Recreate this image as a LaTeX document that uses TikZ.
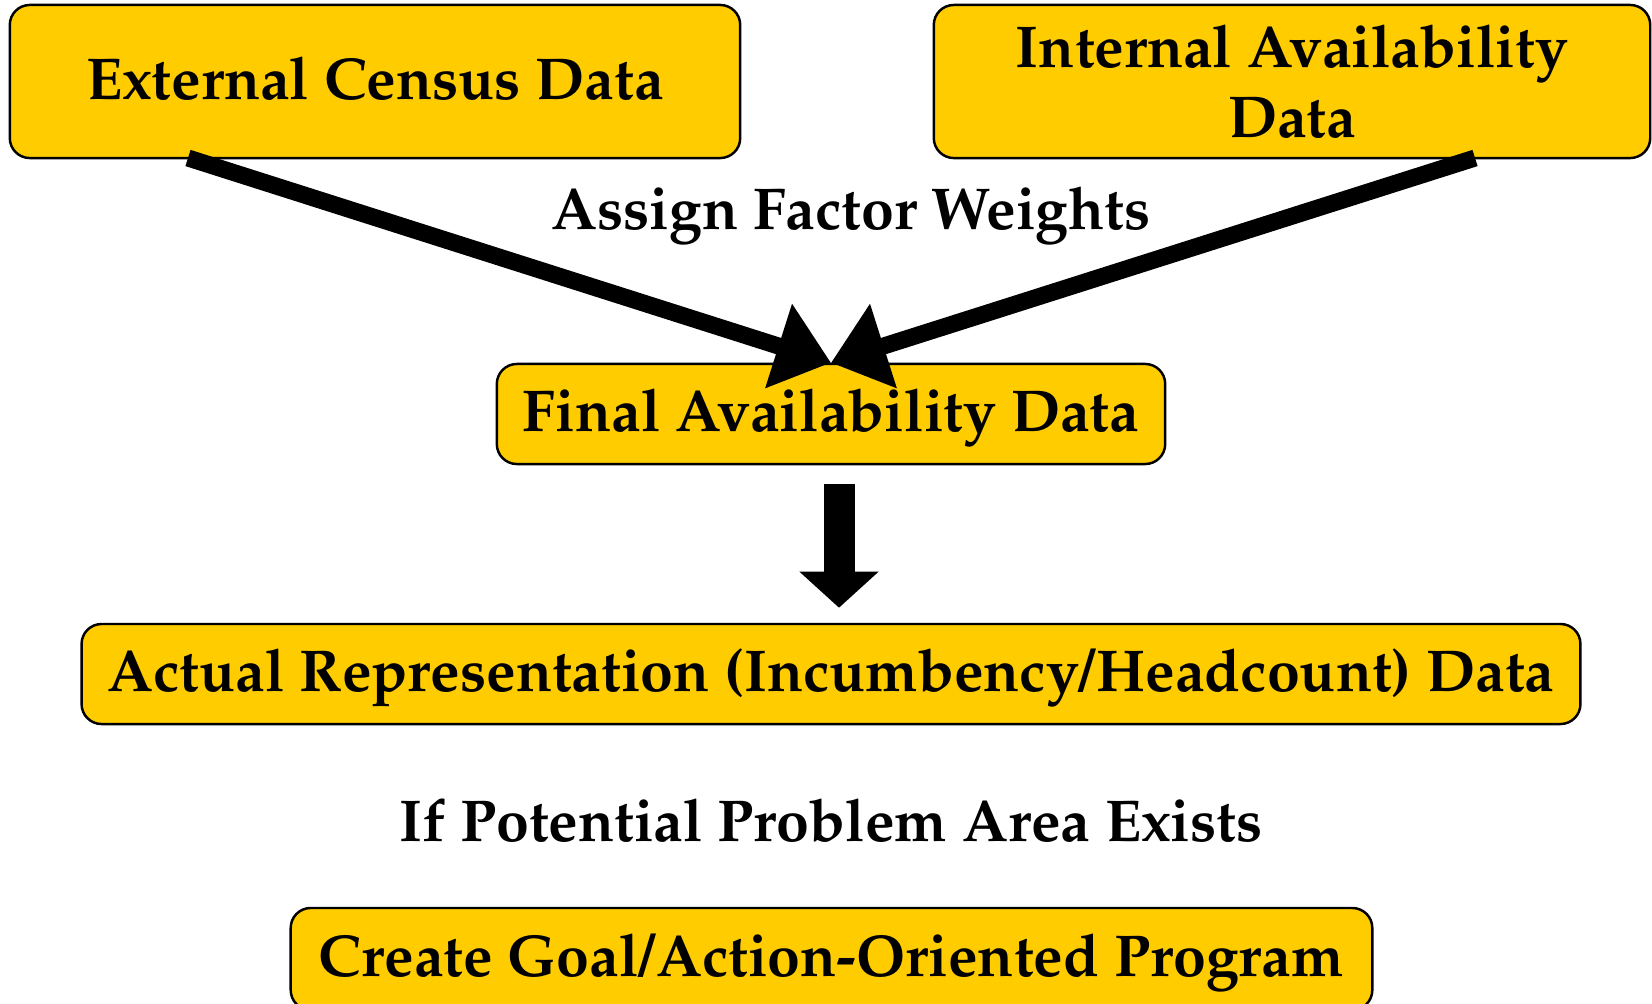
\documentclass[tikz,border=0pt]{standalone}
\usepackage[T1]{fontenc}
\usepackage{mathpazo}
\usepackage{tikz}
\usetikzlibrary{arrows.meta,positioning,calc}
\usepackage{xcolor}
\definecolor{boxyellow}{RGB}{255,204,0}

\begin{document}
\begin{tikzpicture}[x=0.01cm, y=-0.01cm,
    databox/.style={draw=black, line width=0.7pt, fill=boxyellow, rounded corners=0.2cm,
        align=center, inner sep=0pt, font=\fontsize{16.8}{20}\selectfont\bfseries},
    onelinebox/.style={databox, text height=12.7pt, text depth=2.6pt},
    flowlabel/.style={font=\fontsize{16.8}{20}\selectfont\bfseries},
    bigarrow/.style={line width=0.17cm, -{Triangle[length=0.55cm, width=0.85cm]}}]

\useasboundingbox (0,0) rectangle (1652,1003);

% Top row: the two data sources
\node[onelinebox, minimum width=7.3cm, minimum height=1.53cm] (census) at (375, 81.5) {External Census Data};
\node[databox, minimum width=7.16cm, minimum height=1.53cm] (internal) at (1292, 81.5) {Internal Availability\\Data};

% Merged availability
\node[onelinebox, minimum width=6.68cm, minimum height=1cm] (final) at (831, 414) {Final Availability Data};
\node[flowlabel] (weights) at (851, 216) {Assign Factor Weights};

\draw[bigarrow] (188, 158) -- (final.north);
\draw[bigarrow] (1475, 158) -- (final.north);

% Comparison with actual data
\node[onelinebox, minimum width=14.98cm, minimum height=1cm] (actual) at (831, 674) {Actual Representation (Incumbency/Headcount) Data};
\draw[line width=0.31cm, -{Triangle[length=0.36cm, width=0.77cm]}] ([xshift=0.08cm, yshift=-0.19cm]final.south) -- ([xshift=0.08cm, yshift=0.15cm]actual.north);

% Bottom: outcome
\node[flowlabel] (problem) at (831, 820) {If Potential Problem Area Exists};
\node[onelinebox, minimum width=10.81cm, minimum height=1.02cm] (program) at (831.5, 959) {Create Goal/Action-Oriented Program};

\end{tikzpicture}
\end{document}
